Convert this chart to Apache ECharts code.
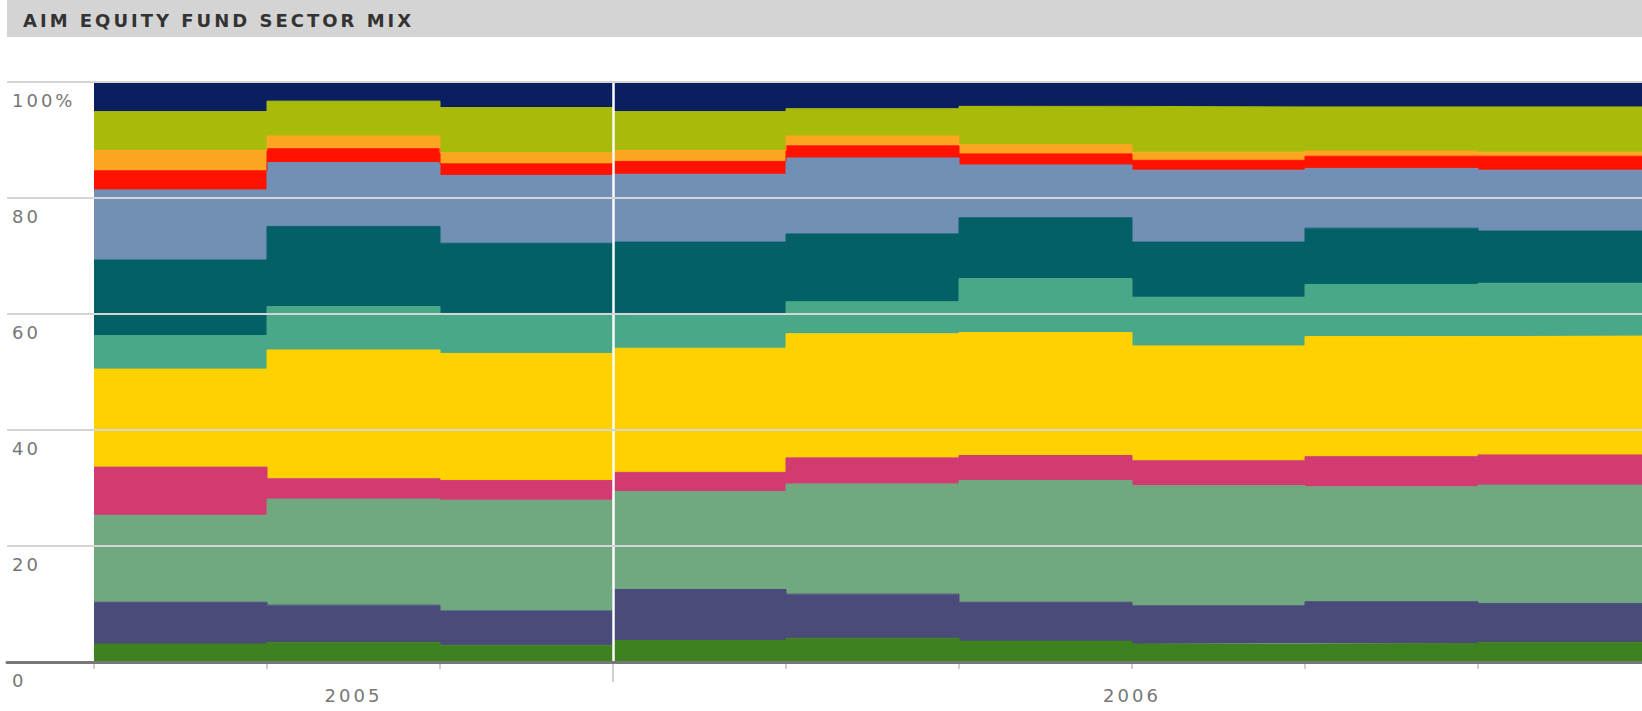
<!DOCTYPE html>
<html>
<head>
<meta charset="utf-8">
<script src="https://cdn.jsdelivr.net/npm/echarts@6/dist/echarts.min.js"></script>
<style>
  html, body { margin: 0; padding: 0; background: #fff; overflow: hidden; }
  /* a little wider than the window: the last period is cut off by the page edge */
  #chart { width: 1651px; height: 711px; }
  #chart text { letter-spacing: 3px; }
</style>
</head>
<body>
<div id="chart"></div>
<script>
// nine periods; the extra 'end' key closes the last step
const periods = ['P1', 'P2', 'P3', 'P4', 'P5', 'P6', 'P7', 'P8', 'P9', 'end'];
const yearBreak = [3];
const yearLabels = ['2005', '2006'];
const yearLabelPos = [1.5, 6];
const yTickLabels = ['0', '20', '40', '60', '80', '100%'];

// sector weights (%), bottom of the stack first
const sector01 = [3.1, 3.4, 2.9, 3.7, 4.1, 3.6, 3.1, 3.2, 3.4];
const sector02 = [7.2, 6.4, 5.9, 8.8, 7.6, 6.7, 6.6, 7.2, 6.7];
const sector03 = [15.0, 18.3, 19.1, 16.9, 19.0, 21.0, 20.7, 19.8, 20.4];
const sector04 = [8.3, 3.5, 3.4, 3.3, 4.5, 4.3, 4.3, 5.2, 5.2];
const sector05 = [16.9, 22.2, 21.9, 21.4, 21.4, 21.2, 19.8, 20.7, 20.5];
const sector06 = [5.8, 7.5, 6.9, 5.9, 5.5, 9.3, 8.4, 9.0, 9.1];
const sector07 = [13.0, 13.8, 12.1, 12.4, 11.7, 10.5, 9.5, 9.7, 9.0];
const sector08 = [12.1, 11.0, 11.7, 11.7, 13.1, 9.1, 12.4, 10.3, 10.5];
const sector09 = [3.3, 2.4, 2.0, 2.2, 2.1, 1.9, 1.7, 2.1, 2.4];
const sector10 = [3.5, 2.2, 1.9, 1.9, 1.7, 1.6, 1.4, 0.9, 0.7];
const sector11 = [6.7, 6.0, 7.8, 6.7, 4.7, 6.6, 7.8, 7.6, 7.8];
const sector12 = [5.2, 3.3, 4.4, 5.1, 4.7, 4.2, 4.4, 4.4, 4.4];

const stackOrder = [sector01, sector02, sector03, sector04, sector05, sector06,
                    sector07, sector08, sector09, sector10, sector11, sector12];
const colors = ['#3e8120', '#4a4b7a', '#70a880', '#d13b72', '#ffd100', '#48a888',
                '#026066', '#7290b5', '#ff1200', '#fca520', '#a8ba0a', '#0b1e5f'];

const font = 'DejaVu Sans';

const chart = echarts.init(document.getElementById('chart'), null, { renderer: 'svg' });

const series = stackOrder.map(function (vals, k) {
    const s = {
        name: 'Sector ' + (k + 1),
        type: 'line',
        xAxisIndex: 2,
        yAxisIndex: 1,
        stack: 'mix',
        step: 'end',
        symbol: 'none',
        lineStyle: { width: 1, color: colors[k] },
        areaStyle: { color: colors[k], opacity: 1 },
        itemStyle: { color: colors[k] },
        // step 'end' holds each value over its period, so repeat the last one
        data: vals.concat([vals[vals.length - 1]])
    };
    if (k === stackOrder.length - 1) {
        s.z = 3;
        s.markLine = {
            silent: true,
            symbol: 'none',
            label: { show: false },
            lineStyle: { color: '#fff', width: 2.5, type: 'solid' },
            data: [{ xAxis: yearBreak[0] }]
        };
    }
    return s;
});

chart.setOption({
    animation: false,
    backgroundColor: '#fff',
    title: {
        text: 'AIM EQUITY FUND SECTOR MIX',
        left: 23,
        top: 10,
        padding: 0,
        z: 10,
        textStyle: { fontFamily: font, fontWeight: 'bold', fontSize: 18, lineHeight: 20, color: '#333' }
    },
    graphic: [{
        type: 'rect',
        z: 0,
        shape: { x: 7, y: 0, width: 1644, height: 37 },
        style: { fill: '#d4d4d4' }
    }],
    grid: [
        { left: 7, right: 0, top: 82, bottom: 49 },
        { left: 94, right: 0, top: 82, bottom: 49 }
    ],
    xAxis: [
        {
            gridIndex: 0, type: 'value', min: 0, max: 1, z: 11,
            axisLine: { show: true, onZero: false, lineStyle: { color: '#777', width: 3 } },
            axisTick: { show: false }, axisLabel: { show: false }, splitLine: { show: false }
        },
        {
            gridIndex: 1, type: 'value', min: 0, max: 9, position: 'bottom',
            axisLine: { show: false, onZero: false }, splitLine: { show: false },
            axisTick: { show: true, customValues: yearBreak, length: 20, lineStyle: { color: '#cfcfcf', width: 2 } },
            axisLabel: {
                customValues: yearLabelPos,
                margin: 24,
                color: '#777',
                fontFamily: font,
                fontSize: 18,
                formatter: function (v) { return yearLabels[yearLabelPos.indexOf(v)]; }
            }
        },
        {
            gridIndex: 1, type: 'category', data: periods, boundaryGap: false, position: 'bottom',
            axisLine: { show: false, onZero: false }, splitLine: { show: false }, axisLabel: { show: false },
            axisTick: { show: true, interval: 0, length: 7, lineStyle: { color: '#cfcfcf', width: 2 } }
        }
    ],
    yAxis: [
        {
            gridIndex: 0, type: 'value', min: 0, max: 100, interval: 20, z: 10,
            axisLine: { show: false }, axisTick: { show: false },
            splitLine: { show: true, lineStyle: { color: '#d5d5d5', width: 2 } },
            axisLabel: {
                inside: true,
                align: 'left',
                verticalAlign: 'top',
                margin: 5,
                padding: [9, 0, 0, 0],
                color: '#777',
                fontFamily: font,
                fontSize: 18,
                formatter: function (v) { return yTickLabels[Math.round(v / 20)]; }
            }
        },
        { gridIndex: 1, type: 'value', min: 0, max: 100, show: false }
    ],
    series: series
});
</script>
</body>
</html>
